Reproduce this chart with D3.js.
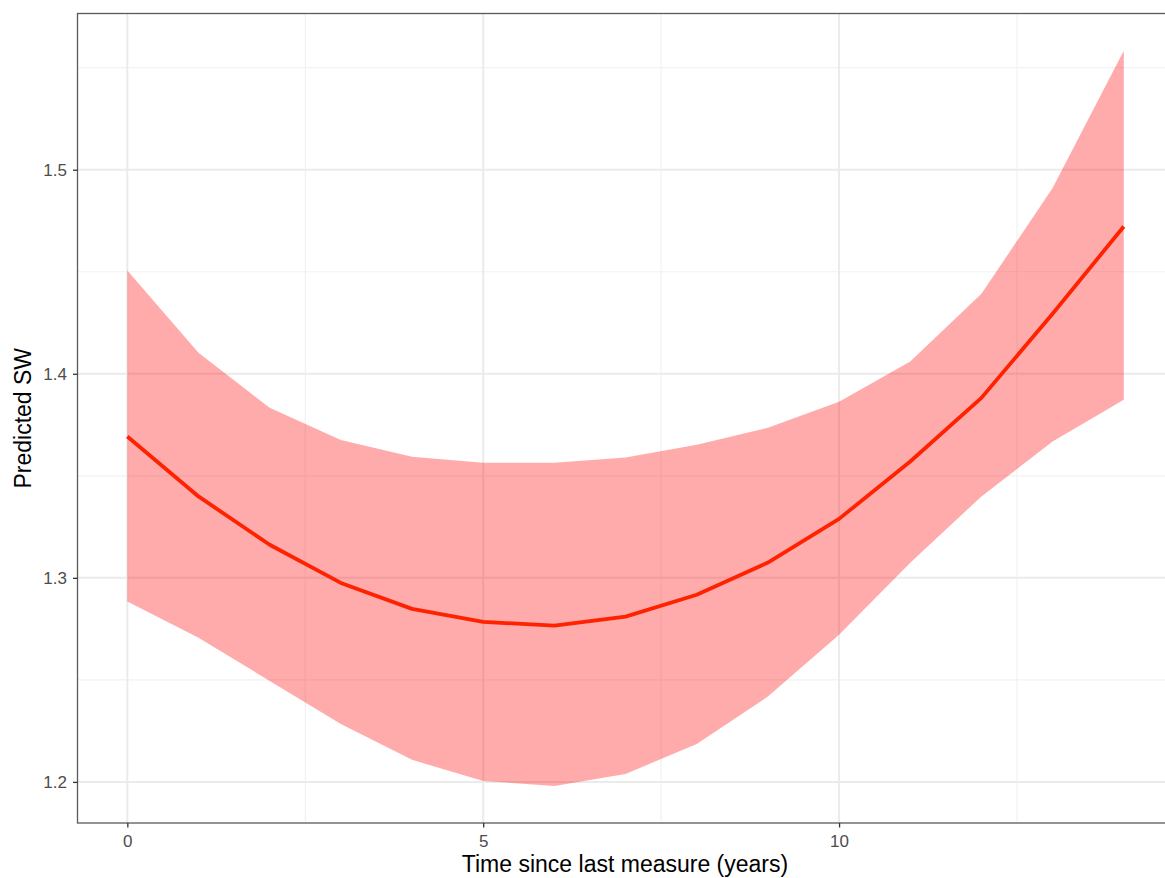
<!DOCTYPE html>
<html><head><meta charset="utf-8">
<script src="https://cdn.jsdelivr.net/npm/d3@7"></script>
<style>body{margin:0;background:#fff}svg{display:block}</style>
</head><body>
<svg id="c" width="1165" height="878"></svg>
<script>
const years = [0,1,2,3,4,5,6,7,8,9,10,11,12,13,14];
const predicted = [1.3693,1.3399,1.3162,1.2975,1.2848,1.2784,1.2766,1.2810,1.2917,1.3075,1.3289,1.3570,1.3882,1.4294,1.4722];
const upperCI = [1.4506,1.4103,1.3833,1.3676,1.3593,1.3564,1.3564,1.3590,1.3652,1.3735,1.3863,1.4060,1.4392,1.4910,1.5583];
const lowerCI = [1.2884,1.2706,1.2495,1.2284,1.2108,1.2005,1.1980,1.2039,1.2186,1.2418,1.2721,1.3074,1.3399,1.3668,1.3873];
const xTicks = [0,5,10];
const xMinor = [2.5,7.5,12.5];
const yTicks = [1.2,1.3,1.4,1.5];
const yMinor = [1.25,1.35,1.45,1.55];
const xTitle = "Time since last measure (years)";
const yTitle = "Predicted SW";

const svg = d3.select("#c");
const L = 77.5, T = 13.5, B = 823;
const x = d3.scaleLinear().domain([-0.7, 14.7]).range([L, 1173.6]);
const y = d3.scaleLinear().domain([1.17986, 1.57656]).range([B, T]);
const R = x.range()[1];
const FONT = "Liberation Sans, Arial, sans-serif";

const g = svg.append("g");
// minor grid
g.selectAll(".ym").data(yMinor).join("line").attr("x1",L).attr("x2",R)
 .attr("y1",d=>y(d)).attr("y2",d=>y(d)).attr("stroke","#f2f2f2").attr("stroke-width",1.2);
g.selectAll(".xm").data(xMinor).join("line").attr("y1",T).attr("y2",B)
 .attr("x1",d=>x(d)).attr("x2",d=>x(d)).attr("stroke","#f2f2f2").attr("stroke-width",1.2);
// major grid
g.selectAll(".yM").data(yTicks).join("line").attr("x1",L).attr("x2",R)
 .attr("y1",d=>y(d)).attr("y2",d=>y(d)).attr("stroke","#ebebeb").attr("stroke-width",2);
g.selectAll(".xM").data(xTicks).join("line").attr("y1",T).attr("y2",B)
 .attr("x1",d=>x(d)).attr("x2",d=>x(d)).attr("stroke","#ebebeb").attr("stroke-width",2);

const data = years.map((v,i)=>({x:v,m:predicted[i],lo:lowerCI[i],hi:upperCI[i]}));
svg.append("path").datum(data)
 .attr("d", d3.area().x(d=>x(d.x)).y0(d=>y(d.lo)).y1(d=>y(d.hi)))
 .attr("fill","#ff0000").attr("fill-opacity",0.33);
svg.append("path").datum(data)
 .attr("d", d3.line().x(d=>x(d.x)).y(d=>y(d.m)))
 .attr("fill","none").attr("stroke","#ff2200").attr("stroke-width",3.8).attr("stroke-linejoin","round");

// border
svg.append("rect").attr("x",L).attr("y",T).attr("width",R-L).attr("height",B-T)
 .attr("fill","none").attr("stroke","#5a5a5a").attr("stroke-width",1.3);

// axes
const xa = svg.append("g").attr("transform",`translate(0,${B})`)
 .call(d3.axisBottom(x).tickValues(xTicks).tickFormat(d3.format("d")).tickSize(4.5).tickPadding(7));
const ya = svg.append("g").attr("transform",`translate(${L},0)`)
 .call(d3.axisLeft(y).tickValues(yTicks).tickFormat(d3.format(".1f")).tickSize(4.5).tickPadding(6));
[xa,ya].forEach(a=>{
  a.attr("font-size",null).attr("font-family",null);
  a.select(".domain").remove();
  a.selectAll(".tick line").attr("stroke","#333").attr("stroke-width",1.3);
  a.selectAll(".tick text").attr("fill","#4d4d4d").style("font-family",FONT).style("font-size","17px");
});

svg.append("text").attr("x",625).attr("y",872).attr("text-anchor","middle")
 .style("font-family",FONT).style("font-size","23px").attr("fill","#000").text(xTitle);
svg.append("text").attr("transform",`translate(31,${(T+B)/2}) rotate(-90)`).attr("text-anchor","middle")
 .style("font-family",FONT).style("font-size","23px").attr("fill","#000").text(yTitle);
</script>
</body></html>
